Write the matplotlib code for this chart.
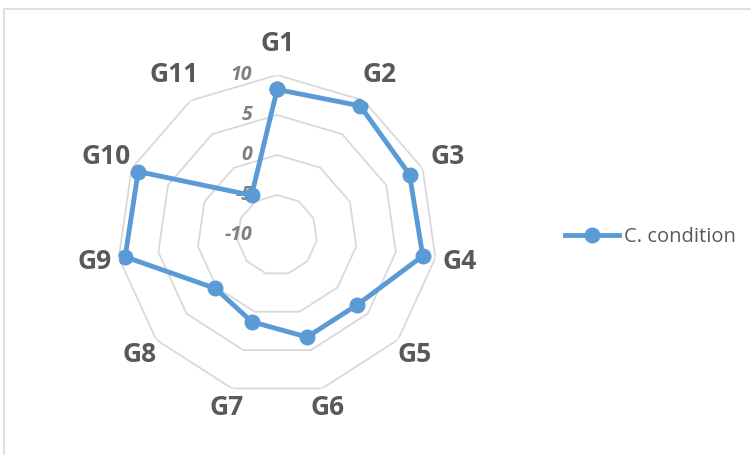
import numpy as np
import matplotlib
matplotlib.use('Agg')
import matplotlib.pyplot as plt
from matplotlib.patches import Rectangle

categories = ['G1', 'G2', 'G3', 'G4', 'G5', 'G6', 'G7', 'G8', 'G9', 'G10', 'G11']
c_condition = [8.2, 9.2, 8.2, 8.4, 3.3, 3.3, 1.3, 0.2, 9.2, 9.1, -4.1]
rings = [-5, 0, 5, 10]
ring_labels = ['10', '5', '0', '-5', '-10']
ring_label_vals = [10, 5, 0, -5, -10]

plt.rcParams['font.family'] = ['Open Sans', 'DejaVu Sans']

fig = plt.figure(figsize=(7.51, 4.55), dpi=100)
ax = fig.add_axes([0.156, 0.132, 0.426, 0.703], projection='polar')
ax.set_theta_zero_location('N')
ax.set_theta_direction(-1)
ax.set_ylim(-10, 10)
ax.grid(False)
ax.spines['polar'].set_visible(False)
ax.set_xticks([])
ax.set_yticks([])
ax.patch.set_alpha(0)

n = len(categories)
theta = np.linspace(0, 2 * np.pi, n, endpoint=False)
theta_c = np.append(theta, theta[0])

# polygon gridlines
for r in rings:
    ax.plot(theta_c, [r] * (n + 1), color='#D9D9D9', lw=1.3, zorder=1)

# radial labels
for lab, v in zip(ring_labels, ring_label_vals):
    ax.annotate(lab, xy=(0, v), xytext=(-25, 0), textcoords='offset pixels',
                ha='right', va='center', fontsize=14, fontweight='bold',
                fontstyle='italic', color='#7F7F7F', zorder=2)

# category labels (bottom ones sit a little closer, like excel)
for t, lab in zip(theta, categories):
    ax.text(t, 13.2 + 0.7 * np.cos(t), lab, ha='center', va='center',
            fontsize=19, fontweight='bold', color='#595959', clip_on=False)

vals = np.append(c_condition, c_condition[0])
ax.plot(theta_c, vals, color='#5B9BD5', lw=3.5, marker='o', markersize=10.5,
        zorder=3, label='C. condition')

ax.legend(loc='center left', bbox_to_anchor=(0.728, 0.479),
          bbox_transform=fig.transFigure, frameon=False, fontsize=14.5,
          handlelength=2.7, handletextpad=0.25, labelcolor='#595959')

fig.patches.append(Rectangle((0.0057, -0.05), 1.1, 0.9813 + 0.05,
                             transform=fig.transFigure, fill=False,
                             edgecolor='#D9D9D9', lw=1.2))

fig.savefig('out.png', dpi=100)
